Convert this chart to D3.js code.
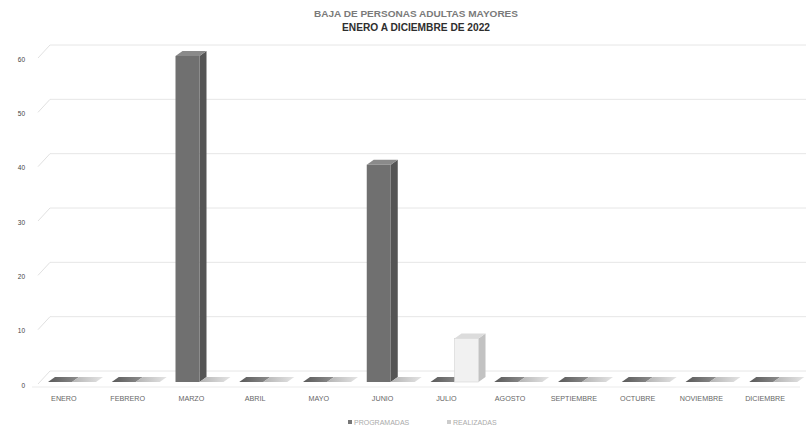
<!DOCTYPE html>
<html>
<head>
<meta charset="utf-8">
<script src="https://cdn.jsdelivr.net/npm/d3@7"></script>
<style>
  html, body { margin: 0; padding: 0; background: #fff; }
  svg { display: block; }
</style>
</head>
<body>
<svg id="chart" width="812" height="429"></svg>
<script>
// ---- data ----
const titleLines = ["BAJA DE PERSONAS ADULTAS MAYORES", "ENERO A DICIEMBRE DE 2022"];
const categories = ["ENERO", "FEBRERO", "MARZO", "ABRIL", "MAYO", "JUNIO", "JULIO", "AGOSTO", "SEPTIEMBRE", "OCTUBRE", "NOVIEMBRE", "DICIEMBRE"];
const programadas = [0, 0, 60, 0, 0, 40, 0, 0, 0, 0, 0, 0];
const realizadas = [0, 0, 0, 0, 0, 0, 8, 0, 0, 0, 0, 0];
const seriesNames = ["PROGRAMADAS", "REALIZADAS"];
const yTicks = [0, 10, 20, 30, 40, 50, 60];

// ---- layout ----
const W = 812, H = 429;
const svg = d3.select("#chart");
svg.append("rect").attr("width", W).attr("height", H).attr("fill", "#fff");

const x = d3.scaleBand().domain(categories).range([30, 795]);
const y = d3.scaleLinear().domain([0, 60]).range([382, 56]);
const series = d3.scaleOrdinal().domain(seriesNames).range([18, 42]); // offset within band
const barW = 24;
const dx = 7, dy = -5;          // bar depth
const wallDx = 12, wallDy = -11; // back wall offset

const colors = {
  PROGRAMADAS: { front: "#707070", side: "#555555", top: "#8a8a8a", slabA: "#5a5a5a", slabB: "#8e8e8e" },
  REALIZADAS: { front: "#f1f1f1", side: "#c2c2c2", top: "#dcdcdc", slabA: "#b4b4b4", slabB: "#e4e4e4" }
};

const defs = svg.append("defs");
seriesNames.forEach((s, i) => {
  const g = defs.append("linearGradient").attr("id", "slab" + i).attr("x1", 0).attr("x2", 1).attr("y1", 0).attr("y2", 0);
  g.append("stop").attr("offset", "0%").attr("stop-color", colors[s].slabA);
  g.append("stop").attr("offset", "100%").attr("stop-color", colors[s].slabB);
});

// ---- back wall gridlines ----
const grid = svg.append("g");
grid.selectAll("line.g").data(yTicks).join("line")
  .attr("x1", 38 + wallDx).attr("x2", 806)
  .attr("y1", d => y(d) + wallDy).attr("y2", d => y(d) + wallDy)
  .attr("stroke", "#e6e6e6").attr("stroke-width", 1);
// left wall diagonals
grid.selectAll("line.d").data(yTicks).join("line")
  .attr("x1", 38).attr("x2", 38 + wallDx)
  .attr("y1", d => y(d) + 2).attr("y2", d => y(d) + wallDy)
  .attr("stroke", "#d8d8d8").attr("stroke-width", 0.8);
// floor front edge
grid.append("line").attr("x1", 32).attr("x2", 800)
  .attr("y1", y(0) + 5).attr("y2", y(0) + 5)
  .attr("stroke", "#ebebeb").attr("stroke-width", 1);

// ---- y axis labels ----
const yAxis = d3.axisLeft(y).tickValues(yTicks).tickSize(0).tickPadding(0);
const ya = svg.append("g").attr("transform", "translate(25,3)").call(yAxis);
ya.select(".domain").remove();
ya.selectAll("text").attr("font-family", "Liberation Sans, Arial, sans-serif")
  .attr("font-size", 6.5).attr("fill", "#444");

// ---- bars ----
const barData = [];
categories.forEach((c, i) => {
  barData.push({ cat: c, s: seriesNames[0], si: 0, v: programadas[i] });
  barData.push({ cat: c, s: seriesNames[1], si: 1, v: realizadas[i] });
});
const bars = svg.append("g");
barData.forEach(d => {
  const x0 = x(d.cat) + series(d.s);
  const y0 = y(0), y1 = y(d.v);
  const col = colors[d.s];
  const g = bars.append("g");
  if (d.v > 0) {
    g.append("path").attr("d", `M${x0 + barW},${y1}L${x0 + barW + dx},${y1 + dy}L${x0 + barW + dx},${y0 + dy}L${x0 + barW},${y0}Z`)
      .attr("fill", col.side);
    g.append("rect").attr("x", x0).attr("y", y1).attr("width", barW).attr("height", y0 - y1)
      .attr("fill", col.front).attr("stroke", d.si === 1 ? "#d4d4d4" : "none").attr("stroke-width", 0.6);
    g.append("path").attr("d", `M${x0},${y1}L${x0 + dx},${y1 + dy}L${x0 + barW + dx},${y1 + dy}L${x0 + barW},${y1}Z`)
      .attr("fill", col.top);
  } else {
    // flat slab for zero values
    g.append("path").attr("d", `M${x0},${y0}L${x0 + dx},${y0 + dy}L${x0 + barW + dx},${y0 + dy}L${x0 + barW},${y0}Z`)
      .attr("fill", `url(#slab${d.si})`);
  }
});

// ---- x labels ----
svg.append("g").selectAll("text").data(categories).join("text")
  .attr("x", d => x(d) + x.bandwidth() / 2 + 2)
  .attr("y", 401)
  .attr("text-anchor", "middle")
  .attr("font-family", "Liberation Sans, Arial, sans-serif")
  .attr("font-size", 7.2)
  .attr("fill", "#666")
  .text(d => d);

// ---- title ----
svg.append("text").attr("x", 416).attr("y", 17).attr("text-anchor", "middle")
  .attr("font-family", "Liberation Sans, Arial, sans-serif")
  .attr("font-weight", "bold").attr("font-size", 9.5).attr("fill", "#7a7a7a")
  .attr("textLength", 204).attr("lengthAdjust", "spacingAndGlyphs")
  .text(titleLines[0]);
svg.append("text").attr("x", 416).attr("y", 31).attr("text-anchor", "middle")
  .attr("font-family", "Liberation Sans, Arial, sans-serif")
  .attr("font-weight", "bold").attr("font-size", 10).attr("fill", "#2e2e2e")
  .attr("textLength", 148).attr("lengthAdjust", "spacingAndGlyphs")
  .text(titleLines[1]);

// ---- legend ----
const legX = d3.scaleOrdinal().domain(seriesNames).range([348, 447]);
const leg = svg.append("g").selectAll("g").data(seriesNames).join("g")
  .attr("transform", d => `translate(${legX(d)},423)`);
leg.append("rect").attr("x", 0).attr("y", -3).attr("width", 4).attr("height", 4)
  .attr("fill", (d, i) => i === 0 ? "#777" : "#ccc");
leg.append("text").attr("x", 6).attr("y", 1.5)
  .attr("font-family", "Liberation Sans, Arial, sans-serif")
  .attr("font-size", 7).attr("fill", "#aaa")
  .text(d => d);
</script>
</body>
</html>
